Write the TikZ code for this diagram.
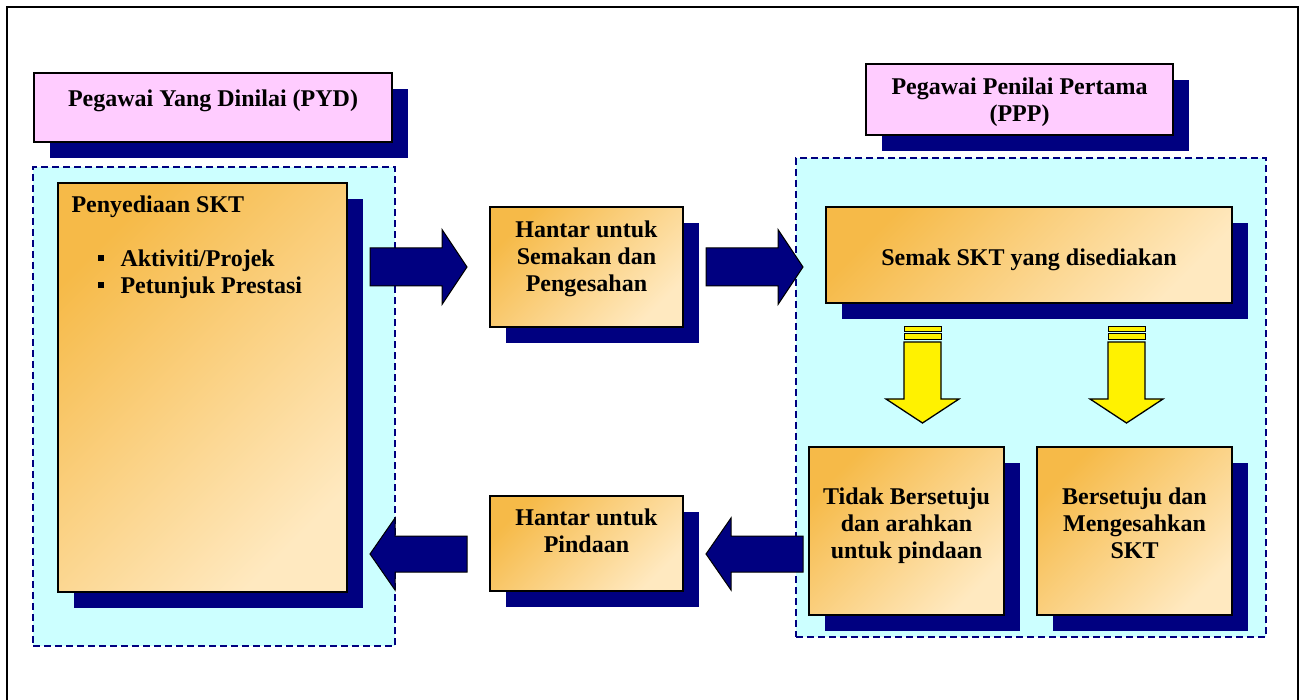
\documentclass[tikz,border=0pt]{standalone}
\usepackage{fontspec}
\setmainfont{Liberation Serif}
\usetikzlibrary{shadows,positioning}
\definecolor{navyblue}{HTML}{000080}
\definecolor{pinkbox}{HTML}{FFCCFF}
\definecolor{cyanbg}{HTML}{CCFFFF}
\definecolor{sktA}{HTML}{F6BA48}
\definecolor{sktB}{HTML}{FFE9C0}

\begin{document}
\begin{tikzpicture}[x=1pt, y=-1pt,
		txt/.style={font=\fontsize{24}{27}\selectfont\bfseries, inner sep=0pt, align=center},
		region/.style={rectangle, fill=cyanbg, draw=navyblue, line width=1.2pt, dash pattern=on 7pt off 4pt, inner sep=0pt},
		shadowed/.style={general shadow={fill=navyblue, shadow xshift=16pt, shadow yshift=-16pt}},
		header/.style={rectangle, draw=black, line width=1.3pt, fill=pinkbox, inner sep=0pt, shadowed},
		sktbox/.style={rectangle, draw=black, line width=1.3pt, top color=sktA, bottom color=sktB, shading angle=45, inner sep=0pt, shadowed},
		bluearrow/.style={fill=navyblue, draw=black, line width=1pt},
		yelarrow/.style={fill=yellow, draw=black, line width=1.3pt},
		yelstripe/.style={fill=yellow, draw=black, line width=0.9pt}]
		\useasboundingbox (0,0) rectangle (1307,700);
		\draw[line width=2pt] (7,700) -- (7,7) -- (1298,7) -- (1298,700);
		
		\node[region, minimum width=362pt, minimum height=479pt] (pydzone) at (214,406.5) {};
		\node[region, minimum width=470pt, minimum height=479pt] (pppzone) at (1031,397.5) {};
		
		\node[header, minimum width=358pt, minimum height=69pt,
			label={[txt, yshift=7pt]center:Pegawai Yang Dinilai (PYD)}] (pyd) at (213,107.5) {};
		\node[header, minimum width=307pt, minimum height=71pt,
			label={[txt, yshift=-3pt]center:{Pegawai Penilai Pertama\\(PPP)}}] (ppp) at (1019.5,99.5) {};
		
		\node[sktbox, minimum width=289pt, minimum height=409pt,
			label={[txt, align=left, anchor=north west, xshift=14pt, yshift=-13.5pt]north west:{Penyediaan SKT\\[27pt]\hspace*{26pt}\raisebox{6pt}{\rule{6pt}{6pt}}\hspace{17pt}Aktiviti/Projek\\\hspace*{26pt}\raisebox{6pt}{\rule{6pt}{6pt}}\hspace{17pt}Petunjuk Prestasi}}] (sediakan) at (202.5,387.5) {};
		\node[sktbox, minimum width=193pt, minimum height=120pt,
			label={[txt, yshift=8.4pt]center:{Hantar untuk\\Semakan dan\\Pengesahan}}] (semakan) at (586.5,267) {};
		\node[sktbox, minimum width=406pt, minimum height=96pt,
			label={[txt, yshift=-4.4pt]center:Semak SKT yang disediakan}] (semak) at (1029,255) {};
		\node[sktbox, minimum width=195pt, minimum height=168pt,
			label={[txt, yshift=5.4pt]center:{Tidak Bersetuju\\dan arahkan\\untuk pindaan}}] (tidak) at (906.5,531) {};
		\node[sktbox, minimum width=195pt, minimum height=168pt,
			label={[txt, yshift=8.1pt]center:{Bersetuju dan\\Mengesahkan\\SKT}}] (setuju) at (1134.5,531) {};
		\node[sktbox, minimum width=193pt, minimum height=95pt,
			label={[txt, yshift=12.9pt]center:{Hantar untuk\\Pindaan}}] (pindaan) at (586.5,543.5) {};
		
		% block arrows
		\coordinate (a1) at (370,267);
		\coordinate (a2) at (706,267);
		\coordinate (a3) at (803,554);
		\coordinate (a4) at (467,554);
		\draw[bluearrow] (a1) ++(0,-19) -- ++(72,0) -- ++(0,-18.5) -- ++(25,37.5) -- ++(-25,37.5) -- ++(0,-18.5) -- ++(-72,0) -- cycle;
		\draw[bluearrow] (a2) ++(0,-19) -- ++(72,0) -- ++(0,-18.5) -- ++(25,37.5) -- ++(-25,37.5) -- ++(0,-18.5) -- ++(-72,0) -- cycle;
		\draw[bluearrow] (a3) ++(0,-18) -- ++(-72,0) -- ++(0,-18) -- ++(-25,36) -- ++(25,36) -- ++(0,-18) -- ++(72,0) -- cycle;
		\draw[bluearrow] (a4) ++(0,-18) -- ++(-72,0) -- ++(0,-18) -- ++(-25,36) -- ++(25,36) -- ++(0,-18) -- ++(72,0) -- cycle;
		
		% striped arrows
		\coordinate (y1) at (922.5,327);
		\coordinate (y2) at (1126.5,327);
		\draw[yelstripe] (y1) ++(-18.5,-0.5) rectangle ++(37,5);
		\draw[yelstripe] (y1) ++(-18.5,6) rectangle ++(37,6.5);
		\draw[yelarrow] (y1) ++(-18.5,15) -- ++(37,0) -- ++(0,57) -- ++(18,0) -- ++(-36.5,24) -- ++(-36.5,-24) -- ++(18,0) -- cycle;
		\draw[yelstripe] (y2) ++(-18.5,-0.5) rectangle ++(37,5);
		\draw[yelstripe] (y2) ++(-18.5,6) rectangle ++(37,6.5);
		\draw[yelarrow] (y2) ++(-18.5,15) -- ++(37,0) -- ++(0,57) -- ++(18,0) -- ++(-36.5,24) -- ++(-36.5,-24) -- ++(18,0) -- cycle;
	\end{tikzpicture}
\end{document}
